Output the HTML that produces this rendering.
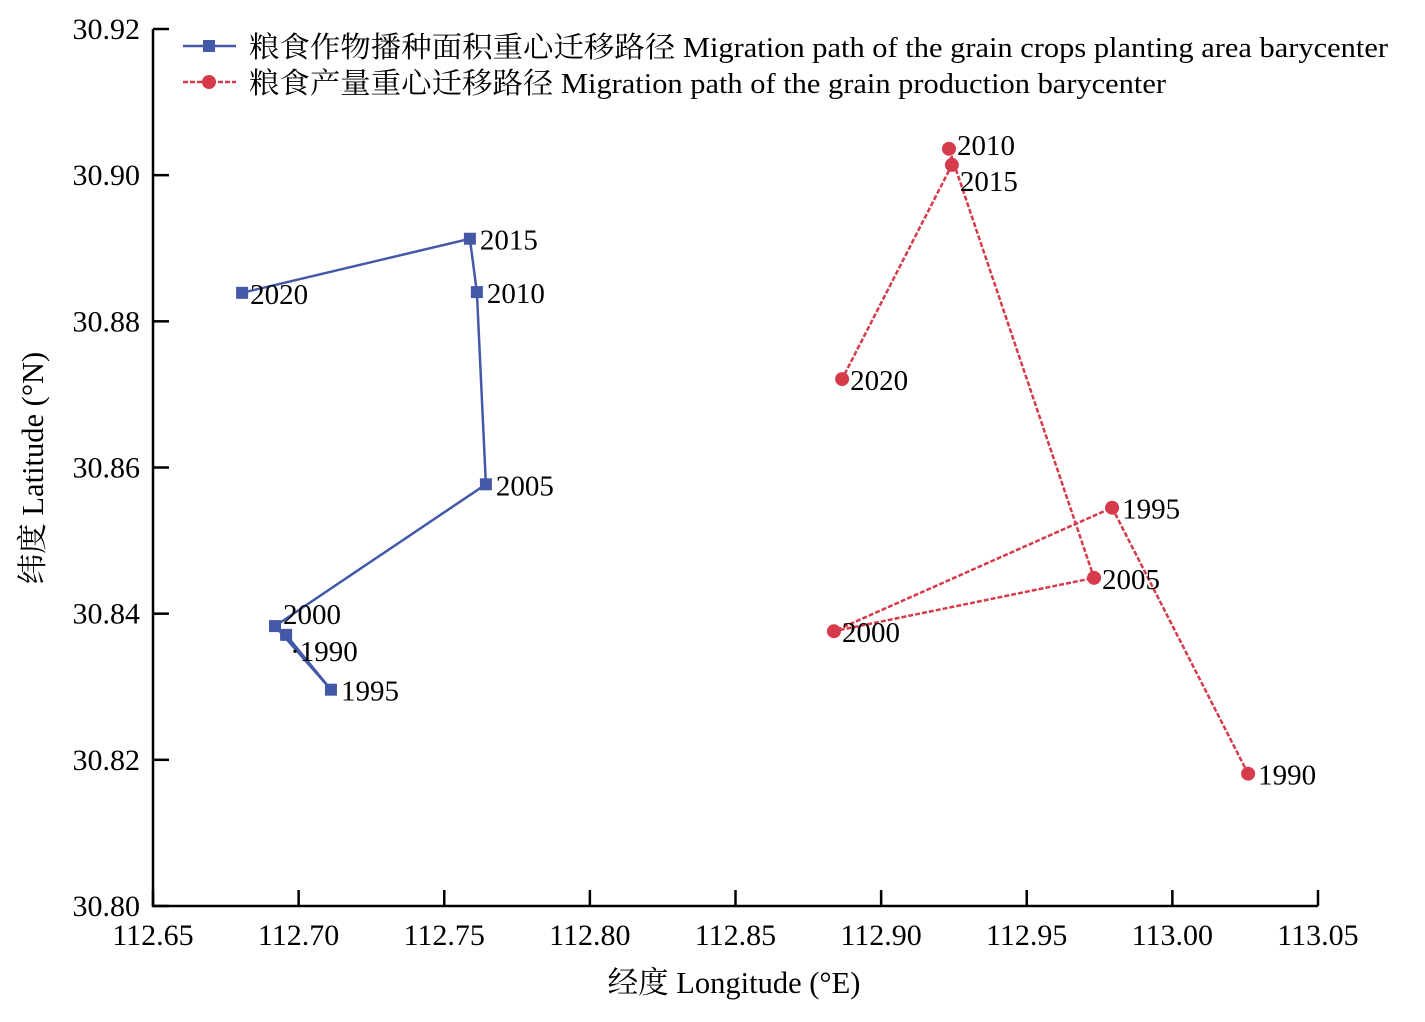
<!DOCTYPE html>
<html><head><meta charset="utf-8"><style>
html,body{margin:0;padding:0;background:#fff;}
svg text{font-family:"Liberation Serif","Noto Serif CJK SC",serif;fill:#000;}
</style></head><body>
<svg id="chart" width="1425" height="1017" xmlns="http://www.w3.org/2000/svg"></svg>
<script>
const years = ["1990","1995","2000","2005","2010","2015","2020"];
const areaLon = [112.6957,112.7111,112.6919,112.7643,112.7612,112.7588,112.6806];
const areaLat = [30.8371,30.8296,30.8383,30.8577,30.8840,30.8913,30.8839];
const prodLon = [113.0260,112.9793,112.8838,112.9731,112.9233,112.9243,112.8866];
const prodLat = [30.8181,30.8545,30.8376,30.8449,30.9036,30.9014,30.8721];
const xTicks = [112.65,112.70,112.75,112.80,112.85,112.90,112.95,113.00,113.05];
const yTicks = [30.80,30.82,30.84,30.86,30.88,30.90,30.92];
const areaLabelOff = [[4,16],[10,1],[8,-12],[10,1],[10,1],[10,1],[8,1]];
const prodLabelOff = [[10,1],[10,1],[8,1],[8,1],[8,-4],[8,16],[8,1]];

const X0=153,X1=1318,Y0=906,Y1=29;
const xs = v => X0+(v-112.65)/(113.05-112.65)*(X1-X0);
const ys = v => Y0-(v-30.80)/(30.92-30.80)*(Y0-Y1);
const svg=document.getElementById('chart');
const NS="http://www.w3.org/2000/svg";
function mk(tag,attrs,parent){const e=document.createElementNS(NS,tag);for(const k in attrs)e.setAttribute(k,attrs[k]);(parent||svg).appendChild(e);return e;}

const axes=mk('g',{});


mk('path',{d:`M${X0},${Y1} V${Y0} H${X1}`,fill:'none',stroke:'#000','stroke-width':2.5},axes);
xTicks.forEach(t=>{
  const x=xs(t);
  mk('line',{x1:x,x2:x,y1:Y0,y2:Y0-16,stroke:'#000','stroke-width':2.5},axes);
  const tx=mk('text',{x:x,y:Y0+39,'font-size':30,'text-anchor':'middle'},axes);
  tx.textContent=t.toFixed(2);
  
  
});
yTicks.forEach(t=>{
  const y=ys(t);
  mk('line',{x1:X0,x2:X0+16,y1:y,y2:y,stroke:'#000','stroke-width':2.5},axes);
  const tx=mk('text',{x:X0-13,y:y+10,'font-size':30,'text-anchor':'end'},axes);
  tx.textContent=t.toFixed(2);
  
  
});
const xt=mk('text',{x:734,y:993,'font-size':30.5,'text-anchor':'middle'});
xt.textContent='经度 Longitude (°E)';


const yt=mk('text',{x:43,y:468,'font-size':30.5,'text-anchor':'middle',transform:'rotate(-90 43 468)'});
yt.textContent='纬度 Latitude (°N)';



function series(lon,lat,color,dash,marker,offs,name){
  const g=mk('g',{});
  
  
  const pts=lon.map((v,i)=>xs(v)+','+ys(lat[i])).join(' ');
  const attrs={points:pts,fill:'none',stroke:color,'stroke-width':2.5};
  if(dash)attrs['stroke-dasharray']=dash;
  mk('polyline',attrs,g);
  lon.forEach((v,i)=>{
    const x=xs(v),y=ys(lat[i]);
    let m;
    if(marker==='square')m=mk('rect',{x:x-6,y:y-6,width:12,height:12,fill:color},g);
    else m=mk('circle',{cx:x,cy:y,r:7,fill:color},g);
    
    
    const t=mk('text',{x:x+offs[i][0],y:y+10+offs[i][1],'font-size':29},g);
    t.textContent=(name==='grain-area-series'&&i===0?'·':'')+years[i];
    
    
  });
}
series(areaLon,areaLat,'#4458a8',null,'square',areaLabelOff,'grain-area-series');
series(prodLon,prodLat,'#d63b4c','5,2','circle',prodLabelOff,'grain-production-series');

const lg=mk('g',{});


mk('line',{x1:183,x2:236,y1:46,y2:46,stroke:'#4458a8','stroke-width':2.5},lg);
mk('rect',{x:203,y:40,width:12,height:12,fill:'#4458a8'},lg);
const l1=mk('text',{x:249,y:57,'font-size':29,textLength:1139,lengthAdjust:'spacingAndGlyphs'},lg);
l1.textContent='粮食作物播种面积重心迁移路径 Migration path of the grain crops planting area barycenter';


mk('line',{x1:183,x2:236,y1:82,y2:82,stroke:'#d63b4c','stroke-width':2.5,'stroke-dasharray':'5,2'},lg);
mk('circle',{cx:209,cy:82,r:7,fill:'#d63b4c'},lg);
const l2=mk('text',{x:249,y:93,'font-size':29,textLength:917,lengthAdjust:'spacingAndGlyphs'},lg);
l2.textContent='粮食产量重心迁移路径 Migration path of the grain production barycenter';


</script>
</body></html>
